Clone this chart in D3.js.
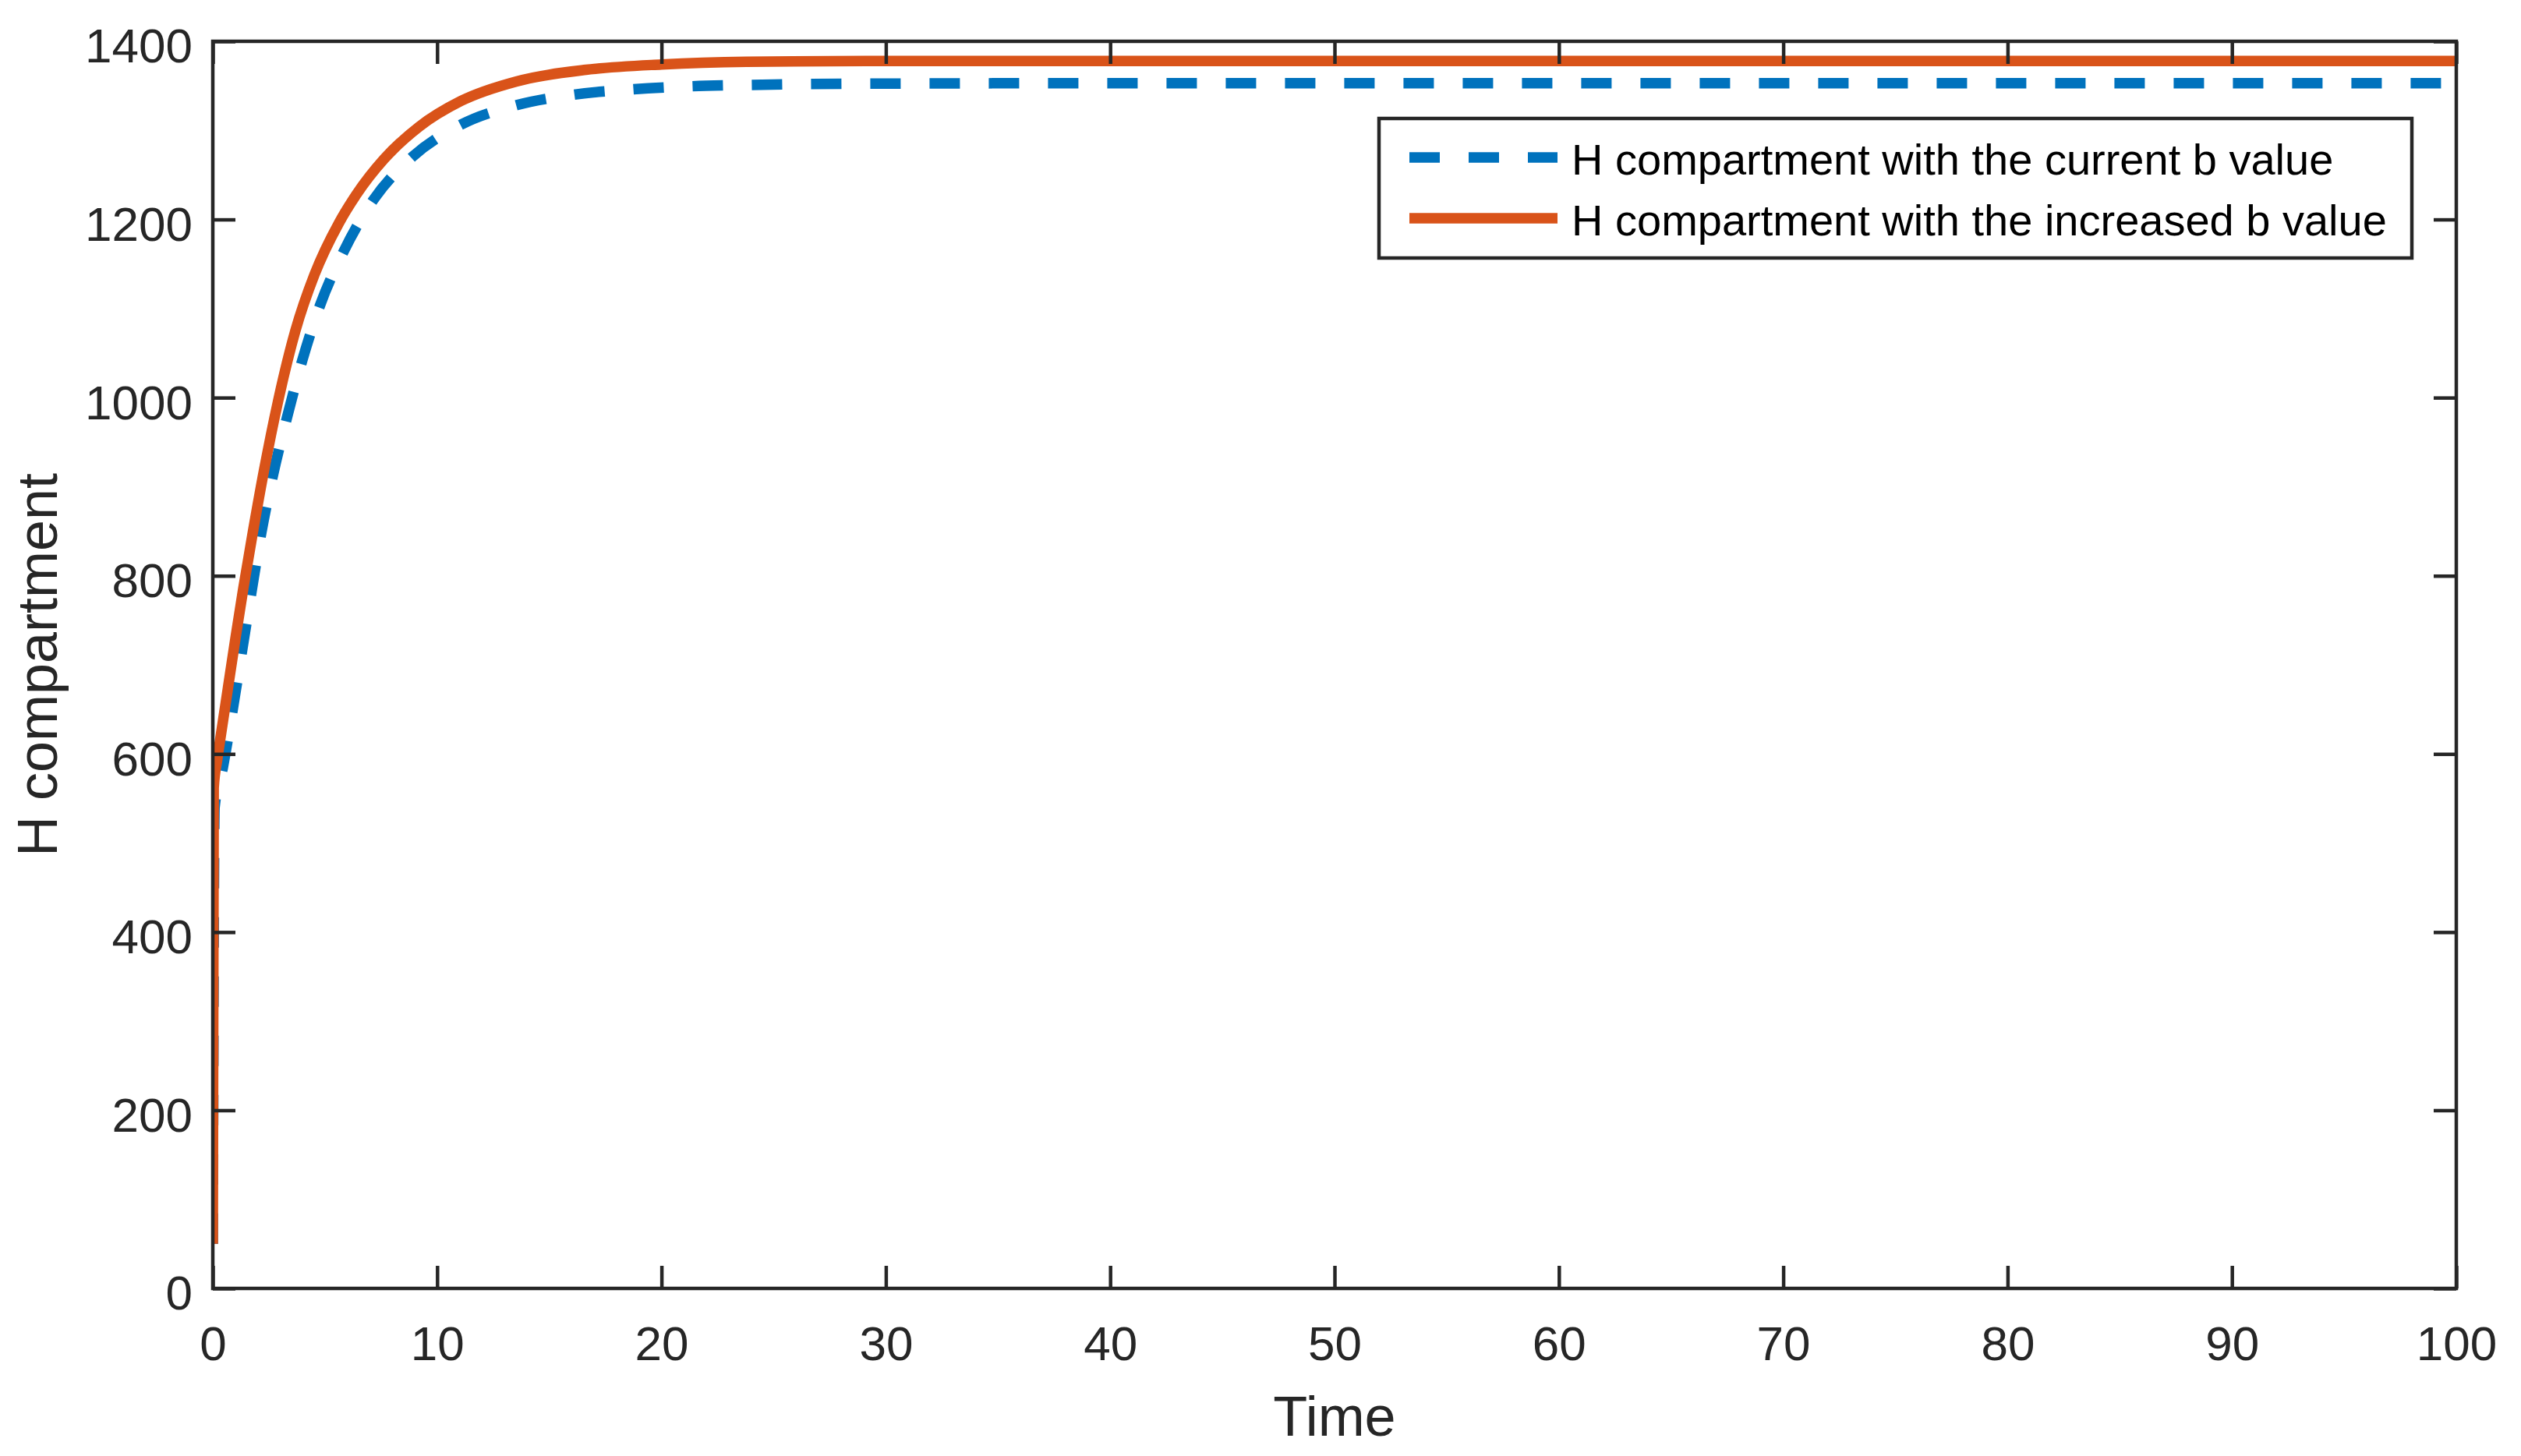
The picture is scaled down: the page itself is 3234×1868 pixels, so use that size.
<!DOCTYPE html>
<html>
<head>
<meta charset="utf-8">
<script src="https://cdn.jsdelivr.net/npm/d3@7"></script>
<style>
  html, body { margin: 0; padding: 0; background: #fff; }
  text { font-family: "Liberation Sans", Arial, Helvetica, sans-serif; }
</style>
</head>
<body>
<div id="graph"></div>
<script>
// values
const tCurrent = [0, 0.08, 0.45, 0.92, 1.33, 1.73, 2.16, 2.70, 3.31, 3.99, 4.80, 5.81, 7.13, 8.88, 11.03, 13.49, 16.07, 18.68, 21.3, 23.8, 30, 40, 60, 80, 100];
const hCurrent = [50, 540, 585, 655, 720, 783, 848, 915, 978, 1042, 1105, 1163, 1221, 1270, 1306, 1328, 1340, 1346, 1349.5, 1351, 1352.5, 1353, 1353, 1353, 1353];

const tIncreased = [0, 0.04, 0.20, 0.40, 0.68, 1.01, 1.36, 1.71, 2.28, 2.90, 3.68, 4.53, 5.62, 6.40, 7.64, 9.19, 11.06, 13.54, 16.64, 20, 23.8, 30, 40, 60, 80, 100];
const hIncreased = [50, 562, 594, 628, 675, 730, 786, 838, 918, 995, 1075, 1138, 1196, 1228, 1268, 1304, 1333, 1355, 1368, 1374, 1377, 1378, 1378, 1378, 1378, 1378];

const xTicks = [0, 10, 20, 30, 40, 50, 60, 70, 80, 90, 100];
const yTicks = [0, 200, 400, 600, 800, 1000, 1200, 1400];
const seriesNames = ["H compartment with the current b value", "H compartment with the increased b value"];

const W = 3234, H = 1868;
const margin = { top: 53, right: 83, bottom: 215, left: 273 };
const width = W - margin.left - margin.right,
  height = H - margin.top - margin.bottom;
const axisColor = "#262626";
const blue = "#0072BD", orange = "#D95319";
const dash = "39,37";

const svg = d3.select("#graph").append("svg")
  .attr("width", W)
  .attr("height", H);

const g = svg.append("g")
  .attr("transform", "translate(" + margin.left + "," + margin.top + ")");

const x = d3.scaleLinear().domain([0, 100]).range([0, width]);
const y = d3.scaleLinear().domain([0, 1400]).range([height, 0]);

g.append("clipPath").attr("id", "clip")
  .append("rect").attr("width", width).attr("height", height);

// lines
const line = d3.line()
  .x(d => x(d[0]))
  .y(d => y(d[1]))
  .curve(d3.curveMonotoneX);

const current = tCurrent.map((t, i) => [t, hCurrent[i]]);
const increased = tIncreased.map((t, i) => [t, hIncreased[i]]);

const lines = g.append("g").attr("clip-path", "url(#clip)");
lines.append("path")
  .datum(current)
  .attr("d", line)
  .attr("fill", "none")
  .attr("stroke", blue)
  .attr("stroke-width", 13.5)
  .attr("stroke-dasharray", dash);
lines.append("path")
  .datum(increased)
  .attr("d", line)
  .attr("fill", "none")
  .attr("stroke", orange)
  .attr("stroke-width", 13.5)
  .attr("stroke-linejoin", "round");

// axes, ticks pointing inward on all four sides
function styleAxis(sel) {
  sel.select(".domain").remove();
  sel.selectAll(".tick line").attr("stroke", axisColor).attr("stroke-width", 4.5);
  sel.selectAll("text")
    .attr("fill", axisColor)
    .style("font-size", "62px");
}

g.append("g")
  .attr("transform", "translate(0," + height + ")")
  .call(d3.axisBottom(x).tickValues(xTicks).tickSize(-29).tickPadding(48).tickFormat(d3.format("d")))
  .call(styleAxis);

g.append("g")
  .call(d3.axisTop(x).tickValues(xTicks).tickSize(-29).tickFormat(""))
  .call(styleAxis);

const yAx = g.append("g")
  .call(d3.axisLeft(y).tickValues(yTicks).tickSize(-29).tickPadding(26).tickFormat(d3.format("d")))
  .call(styleAxis);
yAx.selectAll("text").attr("dy", "0.435em");

g.append("g")
  .attr("transform", "translate(" + width + ",0)")
  .call(d3.axisRight(y).tickValues(yTicks).tickSize(-29).tickFormat(""))
  .call(styleAxis);

g.append("rect")
  .attr("width", width)
  .attr("height", height)
  .attr("fill", "none")
  .attr("stroke", axisColor)
  .attr("stroke-width", 4.5);

// axis labels
svg.append("text")
  .attr("x", margin.left + width / 2)
  .attr("y", 1842)
  .attr("text-anchor", "middle")
  .attr("fill", axisColor)
  .style("font-size", "72px")
  .text("Time");

svg.append("text")
  .attr("transform", "translate(73," + (margin.top + height / 2) + ") rotate(-90)")
  .attr("text-anchor", "middle")
  .attr("fill", axisColor)
  .style("font-size", "72px")
  .text("H compartment");

// legend
const legend = svg.append("g").attr("transform", "translate(1769,152)");
legend.append("rect")
  .attr("width", 1325)
  .attr("height", 179)
  .attr("fill", "#fff")
  .attr("stroke", axisColor)
  .attr("stroke-width", 4.5);

const legendRows = [
  { name: seriesNames[0], color: blue, dash: dash, y: 50 },
  { name: seriesNames[1], color: orange, dash: null, y: 128 }
];
legendRows.forEach(r => {
  legend.append("line")
    .attr("x1", 39).attr("x2", 229)
    .attr("y1", r.y).attr("y2", r.y)
    .attr("stroke", r.color)
    .attr("stroke-width", 13.5)
    .attr("stroke-dasharray", r.dash);
  legend.append("text")
    .attr("x", 247)
    .attr("y", r.y + 22)
    .attr("fill", "#000")
    .style("font-size", "56px")
    .text(r.name);
});
</script>
</body>
</html>
